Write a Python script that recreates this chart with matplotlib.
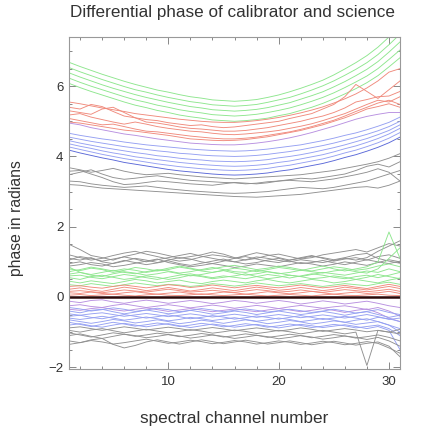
import matplotlib
matplotlib.use("Agg")
import matplotlib.pyplot as plt
from matplotlib.ticker import MultipleLocator

plt.rcParams['font.family'] = ['Liberation Sans', 'DejaVu Sans']

# spectral channels
channels = list(range(1, 32))

# ---- upper set (calibrator) ----
cal_green = [
    [6.68, 6.56, 6.45, 6.34, 6.24, 6.14, 6.05, 5.97, 5.89, 5.83, 5.76, 5.70, 5.66, 5.61, 5.59, 5.57,
     5.59, 5.62, 5.68, 5.75, 5.84, 5.94, 6.05, 6.17, 6.32, 6.49, 6.67, 6.87, 7.11, 7.40, 7.71],
    [6.53, 6.41, 6.30, 6.19, 6.09, 5.99, 5.90, 5.83, 5.75, 5.68, 5.62, 5.56, 5.52, 5.47, 5.45, 5.43,
     5.45, 5.48, 5.54, 5.61, 5.68, 5.78, 5.89, 6.01, 6.15, 6.31, 6.48, 6.67, 6.90, 7.18, 7.48],
    [6.38, 6.26, 6.15, 6.04, 5.94, 5.85, 5.76, 5.68, 5.61, 5.54, 5.48, 5.42, 5.38, 5.33, 5.31, 5.29,
     5.31, 5.34, 5.39, 5.46, 5.53, 5.63, 5.73, 5.84, 5.98, 6.13, 6.30, 6.48, 6.70, 6.97, 7.26],
    [6.23, 6.11, 6.00, 5.90, 5.80, 5.70, 5.61, 5.54, 5.46, 5.40, 5.33, 5.28, 5.24, 5.19, 5.17, 5.15,
     5.17, 5.20, 5.25, 5.31, 5.38, 5.47, 5.57, 5.68, 5.81, 5.96, 6.12, 6.29, 6.50, 6.76, 7.03],
    [6.08, 5.96, 5.85, 5.75, 5.65, 5.55, 5.46, 5.39, 5.31, 5.25, 5.18, 5.13, 5.09, 5.04, 5.02, 5.00,
     5.02, 5.05, 5.09, 5.16, 5.22, 5.31, 5.40, 5.51, 5.64, 5.78, 5.93, 6.10, 6.30, 6.55, 6.81],
]

cal_red = [
    [5.55, 5.50, 5.44, 5.38, 5.33, 5.28, 5.22, 5.18, 5.14, 5.10, 5.06, 5.03, 5.00, 4.98, 4.97, 4.97,
     4.99, 5.02, 5.06, 5.11, 5.17, 5.24, 5.32, 5.41, 5.52, 5.64, 5.78, 5.95, 6.15, 6.40, 6.50],
    [5.40, 5.35, 5.48, 5.42, 5.28, 5.15, 5.10, 5.05, 5.02, 4.96, 4.92, 4.88, 4.90, 4.85, 4.82, 4.84,
     4.88, 4.92, 4.96, 5.00, 5.08, 5.15, 5.22, 5.35, 5.48, 5.70, 6.05, 5.85, 5.65, 5.90, 6.15],
    [5.30, 5.25, 5.20, 5.35, 5.40, 5.25, 5.10, 4.98, 4.95, 4.90, 4.84, 4.80, 4.78, 4.75, 4.72, 4.72,
     4.74, 4.78, 4.82, 4.88, 4.94, 5.00, 5.08, 5.15, 5.25, 5.38, 5.55, 5.62, 5.70, 5.72, 5.85],
    [5.18, 5.22, 5.12, 5.05, 4.98, 4.92, 4.98, 4.92, 4.85, 4.80, 4.76, 4.72, 4.70, 4.66, 4.63, 4.62,
     4.64, 4.67, 4.70, 4.74, 4.80, 4.86, 4.93, 5.02, 5.12, 5.22, 5.35, 5.48, 5.60, 5.55, 5.70],
    [5.08, 5.02, 4.96, 4.90, 4.92, 4.85, 4.78, 4.72, 4.70, 4.66, 4.62, 4.58, 4.55, 4.52, 4.50, 4.50,
     4.52, 4.55, 4.60, 4.65, 4.70, 4.77, 4.85, 4.94, 5.03, 5.15, 5.28, 5.40, 5.52, 5.60, 5.48],
    [4.98, 4.95, 4.90, 4.85, 4.80, 4.75, 4.72, 4.68, 4.64, 4.60, 4.55, 4.50, 4.48, 4.46, 4.45, 4.46,
     4.48, 4.52, 4.56, 4.62, 4.68, 4.74, 4.82, 4.90, 5.00, 5.10, 5.22, 5.35, 5.42, 5.50, 5.40],
]

cal_purple = [4.95, 4.90, 4.82, 4.76, 4.70, 4.64, 4.60, 4.55, 4.50, 4.46, 4.42, 4.38, 4.36, 4.34, 4.33, 4.33,
              4.35, 4.38, 4.42, 4.47, 4.53, 4.60, 4.68, 4.77, 4.86, 4.96, 5.06, 5.14, 5.20, 5.25, 5.25]

cal_blue = [
    [4.66, 4.60, 4.55, 4.50, 4.46, 4.41, 4.37, 4.33, 4.30, 4.27, 4.24, 4.21, 4.19, 4.17, 4.16, 4.15,
     4.16, 4.18, 4.21, 4.25, 4.29, 4.33, 4.39, 4.45, 4.52, 4.60, 4.67, 4.76, 4.86, 4.97, 5.12],
    [4.55, 4.49, 4.43, 4.38, 4.33, 4.28, 4.24, 4.20, 4.16, 4.13, 4.09, 4.07, 4.04, 4.02, 4.01, 4.00,
     4.01, 4.03, 4.06, 4.10, 4.14, 4.19, 4.25, 4.31, 4.38, 4.46, 4.54, 4.63, 4.73, 4.85, 5.00],
    [4.45, 4.38, 4.32, 4.26, 4.21, 4.16, 4.11, 4.07, 4.02, 3.99, 3.95, 3.92, 3.90, 3.87, 3.86, 3.85,
     3.86, 3.88, 3.91, 3.96, 4.00, 4.05, 4.11, 4.18, 4.25, 4.33, 4.42, 4.51, 4.62, 4.74, 4.90],
    [4.36, 4.29, 4.23, 4.16, 4.10, 4.05, 3.99, 3.95, 3.91, 3.87, 3.83, 3.80, 3.77, 3.75, 3.73, 3.72,
     3.73, 3.75, 3.78, 3.83, 3.87, 3.93, 3.99, 4.05, 4.13, 4.22, 4.30, 4.40, 4.51, 4.64, 4.80],
    [4.27, 4.20, 4.13, 4.06, 4.00, 3.94, 3.89, 3.84, 3.79, 3.75, 3.71, 3.68, 3.65, 3.63, 3.61, 3.60,
     3.61, 3.63, 3.66, 3.71, 3.75, 3.81, 3.87, 3.93, 4.01, 4.10, 4.18, 4.28, 4.39, 4.52, 4.68],
]
cal_blue_dark = [4.18, 4.10, 4.03, 3.96, 3.90, 3.83, 3.78, 3.73, 3.68, 3.63, 3.59, 3.56, 3.53, 3.50, 3.48, 3.47,
                 3.48, 3.50, 3.53, 3.58, 3.62, 3.68, 3.74, 3.80, 3.88, 3.97, 4.05, 4.15, 4.26, 4.39, 4.55]

cal_gray = [
    [3.68, 3.62, 3.55, 3.60, 3.66, 3.58, 3.52, 3.48, 3.50, 3.52, 3.48, 3.45, 3.42, 3.40, 3.38, 3.36,
     3.38, 3.40, 3.42, 3.44, 3.46, 3.48, 3.52, 3.56, 3.60, 3.66, 3.72, 3.78, 3.85, 3.95, 4.08],
    [3.58, 3.60, 3.50, 3.40, 3.28, 3.20, 3.22, 3.26, 3.30, 3.28, 3.25, 3.22, 3.20, 3.18, 3.22, 3.26,
     3.24, 3.22, 3.25, 3.30, 3.34, 3.38, 3.36, 3.40, 3.45, 3.50, 3.60, 3.72, 3.78, 3.70, 3.85],
    [3.48, 3.55, 3.62, 3.50, 3.40, 3.35, 3.38, 3.42, 3.45, 3.40, 3.36, 3.32, 3.30, 3.28, 3.26, 3.25,
     3.22, 3.24, 3.28, 3.30, 3.32, 3.30, 3.28, 3.32, 3.36, 3.42, 3.48, 3.55, 3.65, 3.55, 3.30],
    [3.30, 3.28, 3.22, 3.18, 3.15, 3.12, 3.14, 3.16, 3.12, 3.08, 3.05, 3.02, 3.00, 2.98, 2.96, 2.95,
     2.96, 2.98, 3.00, 3.04, 3.08, 3.12, 3.10, 3.08, 3.12, 3.18, 3.24, 3.30, 3.40, 3.50, 3.60],
    [3.20, 3.18, 3.14, 3.10, 3.08, 3.06, 3.04, 3.02, 3.00, 2.98, 2.96, 2.94, 2.92, 2.90, 2.88, 2.86,
     2.85, 2.84, 2.86, 2.88, 2.90, 2.92, 2.96, 3.00, 3.04, 3.08, 3.12, 3.14, 3.10, 3.18, 3.30],
]

# ---- lower set (science) ----
sci_gray_top = [
    [1.50, 1.35, 1.18, 1.12, 1.05, 1.15, 1.22, 1.30, 1.25, 1.18, 1.10, 1.15, 1.20, 1.28, 1.22, 1.12,
     1.05, 1.10, 1.18, 1.22, 1.15, 1.08, 1.12, 1.20, 1.25, 1.30, 1.35, 1.28, 1.40, 1.52, 1.45],
    [1.10, 1.05, 1.12, 1.00, 0.95, 1.02, 1.10, 1.05, 0.98, 1.05, 1.12, 1.08, 1.00, 0.95, 1.02, 1.10,
     1.15, 1.08, 1.02, 0.98, 1.05, 1.12, 1.18, 1.10, 1.02, 1.08, 1.12, 1.05, 1.15, 1.20, 1.10],
    [0.95, 1.00, 0.92, 0.88, 0.96, 1.04, 0.98, 0.92, 0.97, 1.03, 0.95, 0.90, 0.96, 1.02, 1.08, 1.00,
     0.94, 0.98, 1.05, 1.10, 1.02, 0.95, 0.98, 1.04, 0.97, 0.92, 0.99, 1.06, 1.00, 0.95, 1.02],
    [1.20, 1.12, 1.05, 1.10, 1.18, 1.25, 1.30, 1.22, 1.15, 1.08, 1.02, 1.06, 1.14, 1.20, 1.16, 1.10,
     1.18, 1.26, 1.20, 1.12, 1.05, 1.10, 1.16, 1.12, 1.06, 1.12, 1.20, 1.24, 1.10, 1.02, 0.96],
    [0.88, 0.92, 0.98, 0.94, 0.86, 0.90, 0.96, 1.02, 1.08, 0.98, 0.92, 0.86, 0.90, 0.95, 0.90, 0.84,
     0.88, 0.94, 0.90, 0.86, 0.92, 0.98, 0.94, 0.88, 0.93, 1.00, 0.95, 0.90, 0.98, 1.06, 1.00],
    [1.05, 1.15, 1.10, 1.02, 1.08, 1.14, 1.08, 1.00, 1.06, 1.12, 1.18, 1.24, 1.16, 1.10, 1.04, 1.00,
     1.06, 1.14, 1.10, 1.04, 1.00, 1.06, 1.02, 0.98, 1.04, 1.10, 1.05, 1.12, 1.30, 1.45, 1.60],
]

sci_green = [
    [0.80, 0.75, 0.82, 0.78, 0.70, 0.76, 0.84, 0.80, 0.74, 0.78, 0.85, 0.80, 0.74, 0.70, 0.76, 0.82,
     0.78, 0.72, 0.78, 0.84, 0.80, 0.75, 0.82, 0.88, 0.80, 0.74, 0.80, 0.86, 1.00, 1.85, 1.10],
    [0.65, 0.70, 0.62, 0.58, 0.66, 0.72, 0.68, 0.62, 0.66, 0.72, 0.66, 0.60, 0.64, 0.70, 0.75, 0.68,
     0.62, 0.66, 0.72, 0.68, 0.62, 0.58, 0.64, 0.70, 0.66, 0.62, 0.68, 0.74, 0.70, 0.80, 0.72],
    [0.55, 0.50, 0.58, 0.62, 0.56, 0.50, 0.54, 0.60, 0.56, 0.50, 0.55, 0.62, 0.58, 0.52, 0.56, 0.60,
     0.66, 0.58, 0.52, 0.56, 0.62, 0.58, 0.52, 0.55, 0.60, 0.56, 0.50, 0.56, 0.64, 0.58, 0.52],
    [0.45, 0.40, 0.46, 0.42, 0.38, 0.44, 0.50, 0.46, 0.40, 0.44, 0.48, 0.42, 0.38, 0.44, 0.48, 0.44,
     0.40, 0.46, 0.50, 0.44, 0.40, 0.45, 0.50, 0.46, 0.40, 0.44, 0.50, 0.45, 0.40, 0.48, 0.54],
    [0.72, 0.78, 0.85, 0.80, 0.74, 0.80, 0.76, 0.70, 0.75, 0.82, 0.88, 0.82, 0.76, 0.80, 0.86, 0.90,
     0.84, 0.78, 0.82, 0.88, 0.84, 0.78, 0.74, 0.80, 0.86, 0.82, 0.76, 0.80, 0.88, 0.94, 0.86],
    [0.35, 0.32, 0.38, 0.34, 0.30, 0.35, 0.40, 0.36, 0.32, 0.36, 0.34, 0.30, 0.33, 0.38, 0.35, 0.31,
     0.35, 0.40, 0.36, 0.32, 0.35, 0.38, 0.34, 0.30, 0.34, 0.38, 0.35, 0.32, 0.38, 0.42, 0.36],
    [0.60, 0.62, 0.56, 0.52, 0.58, 0.64, 0.60, 0.55, 0.50, 0.56, 0.62, 0.66, 0.60, 0.55, 0.60, 0.56,
     0.52, 0.58, 0.64, 0.60, 0.54, 0.60, 0.66, 0.62, 0.56, 0.52, 0.58, 0.62, 0.55, 0.62, 0.70],
    [0.85, 0.70, 0.64, 0.70, 0.76, 0.70, 0.66, 0.72, 0.78, 0.74, 0.68, 0.72, 0.78, 0.84, 0.78, 0.72,
     0.70, 0.76, 0.72, 0.66, 0.70, 0.76, 0.72, 0.68, 0.74, 0.78, 0.72, 0.68, 0.80, 1.10, 1.40],
]

sci_red = [
    [0.22, 0.26, 0.20, 0.16, 0.22, 0.28, 0.24, 0.18, 0.22, 0.27, 0.22, 0.17, 0.21, 0.26, 0.22, 0.18,
     0.23, 0.28, 0.24, 0.19, 0.22, 0.27, 0.23, 0.18, 0.22, 0.28, 0.24, 0.20, 0.25, 0.30, 0.24],
    [0.12, 0.10, 0.14, 0.10, 0.08, 0.12, 0.15, 0.11, 0.08, 0.11, 0.14, 0.10, 0.07, 0.10, 0.14, 0.12,
     0.08, 0.11, 0.15, 0.12, 0.09, 0.12, 0.16, 0.12, 0.08, 0.11, 0.14, 0.10, 0.12, 0.16, 0.10],
    [0.05, 0.07, 0.04, 0.06, 0.08, 0.05, 0.03, 0.06, 0.08, 0.05, 0.04, 0.06, 0.09, 0.06, 0.04, 0.06,
     0.08, 0.05, 0.03, 0.05, 0.07, 0.05, 0.03, 0.06, 0.08, 0.05, 0.04, 0.06, 0.08, 0.05, 0.04],
    [0.30, 0.32, 0.28, 0.25, 0.30, 0.34, 0.30, 0.26, 0.30, 0.35, 0.32, 0.27, 0.30, 0.34, 0.30, 0.26,
     0.30, 0.33, 0.29, 0.26, 0.30, 0.34, 0.30, 0.26, 0.29, 0.33, 0.28, 0.24, 0.30, 0.36, 0.30],
    [0.16, 0.18, 0.15, 0.12, 0.16, 0.20, 0.17, 0.14, 0.18, 0.22, 0.18, 0.14, 0.16, 0.19, 0.16, 0.13,
     0.17, 0.21, 0.18, 0.14, 0.16, 0.20, 0.16, 0.13, 0.17, 0.21, 0.18, 0.15, 0.18, 0.22, 0.16],
]

sci_purple = [
    [-0.12, -0.16, -0.10, -0.08, -0.14, -0.18, -0.13, -0.09, -0.13, -0.18, -0.14, -0.10, -0.14, -0.19, -0.15, -0.10,
     -0.13, -0.18, -0.14, -0.10, -0.14, -0.20, -0.16, -0.11, -0.15, -0.20, -0.16, -0.12, -0.18, -0.25, -0.30],
    [-0.25, -0.22, -0.27, -0.30, -0.24, -0.20, -0.25, -0.30, -0.26, -0.22, -0.26, -0.31, -0.27, -0.23, -0.27, -0.32,
     -0.28, -0.24, -0.28, -0.33, -0.28, -0.24, -0.28, -0.32, -0.28, -0.25, -0.30, -0.36, -0.30, -0.40, -0.55],
    [-0.35, -0.38, -0.33, -0.30, -0.36, -0.40, -0.35, -0.31, -0.36, -0.41, -0.37, -0.33, -0.37, -0.42, -0.38, -0.34,
     -0.38, -0.42, -0.37, -0.33, -0.37, -0.42, -0.38, -0.33, -0.38, -0.44, -0.38, -0.34, -0.45, -0.60, -0.70],
]

sci_blue = [
    [-0.40, -0.45, -0.38, -0.35, -0.42, -0.48, -0.43, -0.37, -0.42, -0.48, -0.44, -0.38, -0.43, -0.49, -0.45, -0.40,
     -0.44, -0.50, -0.45, -0.40, -0.45, -0.50, -0.46, -0.41, -0.46, -0.52, -0.46, -0.42, -0.50, -0.58, -0.52],
    [-0.55, -0.52, -0.58, -0.62, -0.56, -0.50, -0.55, -0.60, -0.56, -0.51, -0.56, -0.62, -0.58, -0.53, -0.57, -0.63,
     -0.59, -0.54, -0.58, -0.63, -0.58, -0.53, -0.58, -0.64, -0.60, -0.55, -0.60, -0.66, -0.58, -0.62, -0.70],
    [-0.65, -0.70, -0.75, -0.70, -0.64, -0.68, -0.74, -0.70, -0.65, -0.70, -0.76, -0.72, -0.66, -0.70, -0.75, -0.70,
     -0.65, -0.70, -0.76, -0.72, -0.67, -0.71, -0.77, -0.73, -0.68, -0.72, -0.78, -0.74, -0.70, -0.80, -0.90],
    [-0.80, -0.76, -0.82, -0.86, -0.80, -0.75, -0.80, -0.85, -0.80, -0.76, -0.82, -0.87, -0.82, -0.77, -0.81, -0.86,
     -0.82, -0.78, -0.83, -0.88, -0.83, -0.78, -0.82, -0.87, -0.83, -0.79, -0.84, -0.90, -0.84, -0.95, -1.50],
    [-0.30, -0.34, -0.40, -0.36, -0.31, -0.35, -0.41, -0.37, -0.32, -0.36, -0.42, -0.38, -0.33, -0.37, -0.42, -0.38,
     -0.34, -0.38, -0.43, -0.39, -0.35, -0.39, -0.44, -0.40, -0.35, -0.40, -0.46, -0.41, -0.36, -0.44, -0.50],
    [-0.60, -0.64, -0.60, -0.55, -0.60, -0.66, -0.62, -0.57, -0.62, -0.68, -0.64, -0.58, -0.62, -0.67, -0.63, -0.59,
     -0.64, -0.69, -0.65, -0.60, -0.64, -0.70, -0.66, -0.61, -0.66, -0.72, -0.66, -0.62, -0.70, -0.80, -1.00],
    [-0.48, -0.52, -0.48, -0.45, -0.50, -0.55, -0.51, -0.47, -0.51, -0.56, -0.52, -0.48, -0.52, -0.57, -0.53, -0.49,
     -0.53, -0.58, -0.54, -0.50, -0.54, -0.59, -0.55, -0.51, -0.55, -0.60, -0.55, -0.50, -0.56, -0.64, -0.60],
    [-0.72, -0.78, -0.84, -0.78, -0.72, -0.77, -0.83, -0.79, -0.74, -0.78, -0.84, -0.80, -0.75, -0.79, -0.85, -0.81,
     -0.76, -0.80, -0.86, -0.82, -0.77, -0.81, -0.87, -0.83, -0.78, -0.82, -0.88, -0.84, -0.80, -0.90, -1.10],
]

sci_gray_bottom = [
    [-0.95, -1.00, -0.94, -0.90, -0.96, -1.02, -0.97, -0.92, -0.97, -1.02, -0.98, -0.93, -0.97, -1.03, -0.99, -0.94,
     -0.98, -1.04, -1.00, -0.95, -0.99, -1.05, -1.00, -0.95, -1.00, -1.05, -1.00, -1.95, -0.95, -1.00, -1.05],
    [-1.10, -1.05, -1.12, -1.18, -1.12, -1.06, -1.10, -1.16, -1.12, -1.07, -1.11, -1.17, -1.13, -1.08, -1.12, -1.18,
     -1.14, -1.09, -1.13, -1.19, -1.15, -1.10, -1.14, -1.20, -1.16, -1.11, -1.15, -1.21, -1.15, -1.25, -1.40],
    [-1.25, -1.30, -1.22, -1.18, -1.35, -1.45, -1.38, -1.28, -1.22, -1.28, -1.34, -1.28, -1.22, -1.27, -1.33, -1.28,
     -1.23, -1.28, -1.34, -1.30, -1.25, -1.30, -1.36, -1.31, -1.26, -1.31, -1.37, -1.32, -1.28, -1.40, -1.70],
    [-0.88, -0.85, -0.90, -0.95, -0.90, -0.85, -0.89, -0.94, -0.90, -0.86, -0.90, -0.95, -0.91, -0.87, -0.91, -0.96,
     -0.92, -0.88, -0.92, -0.97, -0.93, -0.88, -0.92, -0.98, -0.94, -0.90, -0.94, -0.99, -0.95, -1.00, -0.92],
    [-1.02, -1.08, -1.14, -1.08, -1.02, -1.06, -1.12, -1.08, -1.03, -1.07, -1.13, -1.09, -1.04, -1.08, -1.14, -1.10,
     -1.05, -1.09, -1.15, -1.11, -1.06, -1.10, -1.16, -1.12, -1.07, -1.11, -1.17, -1.13, -1.08, -1.15, -1.25],
    [-1.35, -1.30, -1.24, -1.28, -1.34, -1.30, -1.25, -1.20, -1.26, -1.32, -1.28, -1.23, -1.27, -1.33, -1.29, -1.24,
     -1.28, -1.34, -1.30, -1.25, -1.29, -1.35, -1.31, -1.26, -1.30, -1.36, -1.32, -1.27, -1.32, -1.45, -1.60],
]

zero_level = 0.0

# colours
c_green = '#8ee68e'
c_red = '#f08a7c'
c_blue = '#95a0f2'
c_blue_dark = '#5a68d8'
c_purple = '#b890e0'
c_gray = '#909090'
lw = 0.65

fig = plt.figure(figsize=(4.22, 4.33), dpi=100)
ax = fig.add_axes([69 / 422, 1 - 369 / 433, 331 / 422, 332 / 433])

for y in cal_green:
    ax.plot(channels, y, color=c_green, lw=lw)
for y in cal_red:
    ax.plot(channels, y, color=c_red, lw=lw)
ax.plot(channels, cal_purple, color=c_purple, lw=lw)
for y in cal_blue:
    ax.plot(channels, y, color=c_blue, lw=lw)
ax.plot(channels, cal_blue_dark, color=c_blue_dark, lw=lw)
for y in cal_gray:
    ax.plot(channels, y, color=c_gray, lw=lw)

for y in sci_gray_top:
    ax.plot(channels, y, color=c_gray, lw=lw)
for y in sci_green:
    ax.plot(channels, y, color=c_green, lw=lw)
for y in sci_red:
    ax.plot(channels, y, color=c_red, lw=lw)
for y in sci_purple:
    ax.plot(channels, y, color=c_purple, lw=lw)
for y in sci_blue:
    ax.plot(channels, y, color=c_blue, lw=lw)
for y in sci_gray_bottom:
    ax.plot(channels, y, color=c_gray, lw=lw)
ax.axhline(zero_level, color='#2a0808', lw=1.8)

ax.set_xlim(1, 31)
ax.set_ylim(-2.05, 7.4)

ax.xaxis.set_major_locator(MultipleLocator(10))
ax.xaxis.set_minor_locator(MultipleLocator(2))
ax.yaxis.set_major_locator(MultipleLocator(2))
ax.yaxis.set_minor_locator(MultipleLocator(0.5))
ax.tick_params(which='both', direction='in', top=True, right=True, color='#888888',
               labelsize=9.5, labelcolor='#333333')
ax.tick_params(which='major', length=5, width=0.7)
ax.tick_params(which='minor', length=2.5, width=0.7)
ax.tick_params(axis='x', pad=5)
ax.tick_params(axis='y', pad=4)
for s in ax.spines.values():
    s.set_color('#999999')
    s.set_linewidth(0.8)

fig.text(233 / 422, 1 - 13 / 433, 'Differential phase of calibrator and science',
         ha='center', va='center', fontsize=12.3, color='#333333')
fig.text(17 / 422, 1 - 218 / 433, 'phase in radians', rotation=90,
         ha='center', va='center', fontsize=11.3, color='#333333')
fig.text(234 / 422, 1 - 419 / 433, 'spectral channel number',
         ha='center', va='center', fontsize=12.3, color='#333333')

fig.savefig('out.png', dpi=100)
